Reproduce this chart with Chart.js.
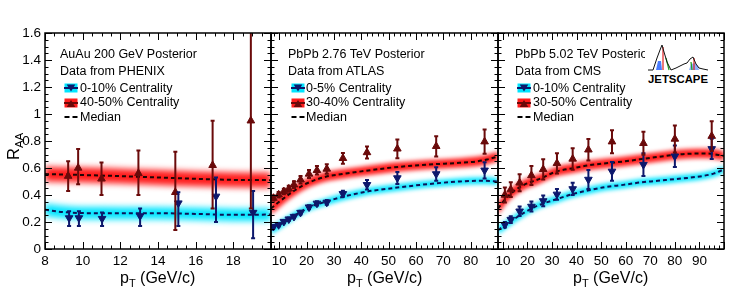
<!DOCTYPE html>
<html>
<head>
<meta charset="utf-8">
<script src="https://cdn.jsdelivr.net/npm/chart.js@4.4.1/dist/chart.umd.min.js"></script>
<style>
html,body{margin:0;padding:0;background:#fff;}
#wrap{position:relative;width:747px;height:294px;overflow:hidden;background:#fff;font-family:"Liberation Sans",Arial,Helvetica,sans-serif;color:#000;}
#wrap canvas{position:absolute;left:0;top:0;}
.t{position:absolute;white-space:nowrap;line-height:1;}
.lg{font-size:12.5px;}
.xt{font-size:16px;}
.sub{font-size:11px;position:relative;top:4px;}
.sw{position:absolute;}
</style>
</head>
<body>
<div id="wrap">
<canvas id="c1" width="747" height="294" style="width:747px;height:294px"></canvas>
<canvas id="c2" width="747" height="294" style="width:747px;height:294px"></canvas>
<canvas id="c3" width="747" height="294" style="width:747px;height:294px"></canvas>

<!-- axis titles -->
<div class="t" style="left:4.5px;top:160px;font-size:16.5px;transform:rotate(-90deg);transform-origin:0 0">R<span style="font-size:11.5px;position:relative;top:4px">AA</span></div>
<div class="t xt" style="left:120px;top:269.5px">p<span class="sub">T</span> (GeV/c)</div>
<div class="t xt" style="left:347px;top:269.5px">p<span class="sub">T</span> (GeV/c)</div>
<div class="t xt" style="left:573px;top:269.5px">p<span class="sub">T</span> (GeV/c)</div>

<!-- legend panel 1 -->
<div class="t lg" style="left:60px;top:48px">AuAu 200 GeV Posterior</div>
<div class="t lg" style="left:60px;top:64.5px">Data from PHENIX</div>
<div class="t lg" style="left:80px;top:81.5px">0-10% Centrality</div>
<div class="t lg" style="left:80px;top:96px">40-50% Centrality</div>
<div class="t lg" style="left:80px;top:110.5px">Median</div>
<!-- legend panel 2 -->
<div class="t lg" style="left:288px;top:48px">PbPb 2.76 TeV Posterior</div>
<div class="t lg" style="left:288px;top:64.5px">Data from ATLAS</div>
<div class="t lg" style="left:306px;top:81.5px">0-5% Centrality</div>
<div class="t lg" style="left:306px;top:96px">30-40% Centrality</div>
<div class="t lg" style="left:306px;top:110.5px">Median</div>
<!-- legend panel 3 -->
<div class="t lg" style="left:515px;top:48px">PbPb 5.02 TeV Posterior</div>
<div class="t lg" style="left:515px;top:64.5px">Data from CMS</div>
<div class="t lg" style="left:533px;top:81.5px">0-10% Centrality</div>
<div class="t lg" style="left:533px;top:96px">30-50% Centrality</div>
<div class="t lg" style="left:533px;top:110.5px">Median</div>

<div id="swatches"></div>

<!-- JETSCAPE logo -->
<svg class="sw" style="left:645px;top:42px" width="68" height="44" viewBox="0 0 68 44">
  <rect x="0" y="0" width="68" height="44" fill="#fff"/>
  <polygon points="11,28 13,19 16,19 17,28" fill="#4a7dff"/>
  <polygon points="44,28 46,22 50,21 53,24 54,28" fill="#8fb0ff"/>
  <line x1="18" y1="5" x2="18" y2="28" stroke="#e02020" stroke-width="1.2"/>
  <line x1="21" y1="16" x2="24" y2="28" stroke="#20a020" stroke-width="1.2"/>
  <line x1="46" y1="20" x2="47" y2="28" stroke="#20a020" stroke-width="1.2"/>
  <line x1="49" y1="16" x2="49" y2="28" stroke="#e02020" stroke-width="1.2"/>
  <polyline points="3,28 8,28 12,16 15,8 17,3 19,10 22,20 26,28 31,26 35,24 39,22 42,21 45,17 48,15 51,22 54,26 58,27 63,28" fill="none" stroke="#111" stroke-width="1"/>
  <text x="3" y="41" font-family="Liberation Sans, Arial, sans-serif" font-weight="bold" font-size="11.5" textLength="60" lengthAdjust="spacingAndGlyphs">JETSCAPE</text>
</svg>
</div>

<script>
// ================= DATA =================
const yTickLabels = [0, 0.2, 0.4, 0.6, 0.8, 1, 1.2, 1.4, 1.6];
const xTickLabelsAuAu = [8, 10, 12, 14, 16, 18];
const xTickLabelsPb276 = [10, 20, 30, 40, 50, 60, 70, 80];
const xTickLabelsPb502 = [10, 20, 30, 40, 50, 60, 70, 80, 90];

// --- AuAu 200 GeV, PHENIX ---
const auauPtCentral   = [9.28, 9.8, 11.03, 13.05, 15.08, 17.08, 19.05];
const auauRaaCentral  = [0.23, 0.23, 0.225, 0.245, 0.34, 0.39, 0.27];
const auauLoCentral   = [0.17, 0.17, 0.17, 0.17, 0.17, 0.20, 0.08];
const auauHiCentral   = [0.28, 0.28, 0.27, 0.30, 0.42, 0.53, 0.43];
const auauPtPeriph    = [9.23, 9.76, 11.0, 12.96, 14.92, 16.9, 18.93];
const auauRaaPeriph   = [0.54, 0.60, 0.52, 0.56, 0.42, 0.62, 0.95];
const auauLoPeriph    = [0.43, 0.48, 0.40, 0.40, 0.14, 0.30, 0.30];
const auauHiPeriph    = [0.65, 0.74, 0.64, 0.73, 0.72, 0.95, 1.80];
const auauMedPtCentral  = [8, 9, 10, 12, 14, 16, 18, 20];
const auauMedCentral    = [0.29, 0.273, 0.266, 0.265, 0.265, 0.26, 0.253, 0.255];
const auauBandCentral   = [0.045, 0.045, 0.045, 0.045, 0.045, 0.045, 0.045, 0.045];
const auauMedPtPeriph   = [8, 10, 12, 14, 16, 18, 20];
const auauMedPeriph     = [0.555, 0.548, 0.54, 0.53, 0.52, 0.512, 0.51];
const auauBandPeriph    = [0.055, 0.055, 0.055, 0.055, 0.055, 0.055, 0.055];

// --- PbPb 2.76 TeV, ATLAS ---
const pb276Pt          = [7.9, 9.8, 11.7, 13.5, 15.4, 17.8, 20.9, 23.8, 27.4, 33.3, 42.1, 53.2, 67.4, 85.1];
const pb276RaaCentral  = [0.166, 0.179, 0.203, 0.221, 0.240, 0.270, 0.310, 0.338, 0.345, 0.409, 0.476, 0.526, 0.556, 0.583];
const pb276LoCentral   = [0.154, 0.167, 0.191, 0.209, 0.227, 0.256, 0.295, 0.322, 0.327, 0.387, 0.441, 0.481, 0.506, 0.523];
const pb276HiCentral   = [0.178, 0.191, 0.215, 0.233, 0.253, 0.284, 0.325, 0.354, 0.363, 0.431, 0.511, 0.571, 0.606, 0.643];
const pb276RaaPeriph   = [0.377, 0.402, 0.426, 0.446, 0.476, 0.513, 0.556, 0.583, 0.593, 0.672, 0.715, 0.742, 0.761, 0.795];
const pb276LoPeriph    = [0.357, 0.382, 0.406, 0.424, 0.451, 0.485, 0.526, 0.551, 0.558, 0.632, 0.670, 0.672, 0.686, 0.705];
const pb276HiPeriph    = [0.397, 0.422, 0.446, 0.468, 0.501, 0.541, 0.586, 0.615, 0.628, 0.712, 0.760, 0.812, 0.836, 0.885];
const pb276MedPtCentral = [7, 10, 15, 21, 27, 33, 42, 52, 64, 76, 85, 90];
const pb276MedCentral   = [0.14, 0.175, 0.24, 0.31, 0.35, 0.385, 0.425, 0.452, 0.48, 0.50, 0.506, 0.50];
const pb276BandCentral  = [0.03, 0.028, 0.026, 0.025, 0.025, 0.025, 0.025, 0.025, 0.025, 0.025, 0.025, 0.025];
const pb276MedPtPeriph  = [7, 10, 15, 20, 27, 33, 40, 52, 64, 76, 82, 86, 90];
const pb276MedPeriph    = [0.30, 0.35, 0.425, 0.485, 0.535, 0.555, 0.575, 0.605, 0.625, 0.638, 0.648, 0.663, 0.685];
const pb276BandPeriph   = [0.045, 0.042, 0.038, 0.036, 0.035, 0.035, 0.035, 0.035, 0.035, 0.035, 0.035, 0.035, 0.035];

// --- PbPb 5.02 TeV, CMS ---
const pb502Pt          = [10.8, 13.2, 16.8, 21.6, 26.4, 32, 38.4, 44.8, 54.4, 67.2, 80, 95];
const pb502RaaCentral  = [0.18, 0.218, 0.28, 0.315, 0.356, 0.405, 0.445, 0.515, 0.575, 0.625, 0.687, 0.742];
const pb502LoCentral   = [0.16, 0.193, 0.245, 0.278, 0.316, 0.365, 0.40, 0.445, 0.505, 0.54, 0.607, 0.667];
const pb502HiCentral   = [0.20, 0.243, 0.315, 0.352, 0.396, 0.445, 0.49, 0.585, 0.645, 0.71, 0.767, 0.817];
const pb502RaaPeriph   = [0.40, 0.44, 0.49, 0.545, 0.59, 0.635, 0.667, 0.735, 0.795, 0.783, 0.815, 0.836];
const pb502LoPeriph    = [0.345, 0.385, 0.427, 0.475, 0.515, 0.56, 0.587, 0.655, 0.71, 0.698, 0.715, 0.726];
const pb502HiPeriph    = [0.455, 0.495, 0.553, 0.615, 0.665, 0.71, 0.747, 0.815, 0.88, 0.868, 0.915, 0.946];
const pb502MedPtCentral = [8, 12, 18, 24, 32, 39, 45, 52, 59, 66, 73, 80, 86, 92, 96, 100];
const pb502MedCentral   = [0.14, 0.19, 0.262, 0.32, 0.37, 0.41, 0.435, 0.46, 0.475, 0.493, 0.505, 0.518, 0.528, 0.543, 0.56, 0.59];
const pb502BandCentral  = [0.03, 0.028, 0.026, 0.025, 0.025, 0.025, 0.025, 0.025, 0.025, 0.025, 0.025, 0.025, 0.025, 0.025, 0.025, 0.025];
const pb502MedPtPeriph  = [8, 12, 18, 25, 32, 39, 45, 59, 73, 86, 93, 100];
const pb502MedPeriph    = [0.30, 0.39, 0.47, 0.52, 0.575, 0.60, 0.62, 0.648, 0.682, 0.706, 0.707, 0.69];
const pb502BandPeriph   = [0.045, 0.04, 0.037, 0.035, 0.035, 0.035, 0.035, 0.035, 0.035, 0.035, 0.035, 0.035];

// ================= STYLE =================
const FONT = '"Liberation Sans", Arial, Helvetica, sans-serif';
const CYAN = 'rgb(0,229,255)';
const RED = 'rgb(255,28,28)';
const MBLUE = '#0d186c';
const MRED = '#6a0a0a';
const LBLUE = '#0c1458';
const LRED = '#1e0606';

function xy(xs, ys) { return xs.map((x, i) => ({ x: x, y: ys[i] })); }
function shift(ys, hw, s) { return ys.map((v, i) => v + s * hw[i]); }
function stepVals(min, max, step) {
  const out = [];
  const start = Math.ceil(min / step - 1e-9);
  for (let k = start; k * step <= max + 1e-9; k++) out.push(+(k * step).toFixed(6));
  return out;
}
function isMult(v, step) { const r = v / step; return Math.abs(r - Math.round(r)) < 1e-6; }

// ---- plugins ----
const blurBands = {
  id: 'blurBands',
  beforeDatasetsDraw(chart, args, o) { chart.ctx.filter = 'blur(' + o.radius + 'px)'; },
  beforeDatasetDraw(chart, args) { if (!chart.data.datasets[args.index].isBand) chart.ctx.filter = 'none'; },
  afterDatasetsDraw(chart) { chart.ctx.filter = 'none'; }
};

const errorBars = {
  id: 'errorBars',
  afterDatasetsDraw(chart) {
    const { ctx, chartArea: a, scales: { x, y } } = chart;
    ctx.save();
    ctx.filter = 'none';
    ctx.beginPath(); ctx.rect(a.left, a.top, a.right - a.left, a.bottom - a.top); ctx.clip();
    chart.data.datasets.forEach(ds => {
      if (!ds.errLo) return;
      ctx.strokeStyle = ds.errColor; ctx.lineWidth = 2; ctx.beginPath();
      ds.data.forEach((p, i) => {
        const px = x.getPixelForValue(p.x);
        const y1 = y.getPixelForValue(ds.errLo[i]);
        const y2 = y.getPixelForValue(ds.errHi[i]);
        ctx.moveTo(px, y1); ctx.lineTo(px, y2);
        ctx.moveTo(px - 2, y1); ctx.lineTo(px + 2, y1);
        ctx.moveTo(px - 2, y2); ctx.lineTo(px + 2, y2);
      });
      ctx.stroke();
    });
    ctx.restore();
  }
};

const rootFrame = {
  id: 'rootFrame',
  afterDraw(chart, args, o) {
    const { ctx, chartArea: a, scales: { x, y } } = chart;
    ctx.save();
    ctx.filter = 'none';
    ctx.strokeStyle = '#000'; ctx.lineWidth = 1;
    ctx.beginPath();
    stepVals(y.min, y.max, o.yMinor).forEach(v => {
      const len = isMult(v, o.yMajor) ? 7 : 3.5;
      const py = Math.round(y.getPixelForValue(v)) + 0.5;
      ctx.moveTo(a.left, py); ctx.lineTo(a.left + len, py);
      ctx.moveTo(a.right, py); ctx.lineTo(a.right - len, py);
    });
    stepVals(x.min, x.max, o.xMinor).forEach(v => {
      const len = isMult(v, o.xMajor) ? 7 : 3.5;
      const px = Math.round(x.getPixelForValue(v)) + 0.5;
      ctx.moveTo(px, a.bottom); ctx.lineTo(px, a.bottom - len);
      ctx.moveTo(px, a.top); ctx.lineTo(px, a.top + len);
    });
    ctx.stroke();
    ctx.lineWidth = 1.5;
    ctx.strokeRect(a.left, a.top, a.right - a.left, a.bottom - a.top);
    ctx.restore();
  }
};

function buildDatasets(p) {
  const bandBase = { showLine: true, borderWidth: 0, borderColor: 'transparent', pointRadius: 0, cubicInterpolationMode: 'monotone', isBand: true };
  return [
    { data: xy(p.ptC, p.vC), showLine: false, pointStyle: 'triangle', pointRotation: 180, pointRadius: 4.4,
      pointBackgroundColor: MBLUE, pointBorderColor: MBLUE, pointBorderWidth: 1, errLo: p.loC, errHi: p.hiC, errColor: MBLUE },
    { data: xy(p.ptP, p.vP), showLine: false, pointStyle: 'triangle', pointRotation: 0, pointRadius: 4.4,
      pointBackgroundColor: MRED, pointBorderColor: MRED, pointBorderWidth: 1, errLo: p.loP, errHi: p.hiP, errColor: MRED },
    { data: xy(p.mptC, p.mC), borderColor: LBLUE, borderWidth: 2, borderDash: [4, 3], pointRadius: 0, fill: false, cubicInterpolationMode: 'monotone' },
    { data: xy(p.mptP, p.mP), borderColor: LRED, borderWidth: 2, borderDash: [4, 3], pointRadius: 0, fill: false, cubicInterpolationMode: 'monotone' },
    Object.assign({ data: xy(p.mptP, shift(p.mP, p.bP, 1)), fill: '+1', backgroundColor: RED }, bandBase),
    Object.assign({ data: xy(p.mptP, shift(p.mP, p.bP, -1)), fill: false }, bandBase),
    Object.assign({ data: xy(p.mptC, shift(p.mC, p.bC, 1)), fill: '+1', backgroundColor: CYAN }, bandBase),
    Object.assign({ data: xy(p.mptC, shift(p.mC, p.bC, -1)), fill: false }, bandBase)
  ];
}

function makeChart(id, p) {
  return new Chart(document.getElementById(id), {
    type: 'line',
    data: { datasets: buildDatasets(p) },
    options: {
      responsive: false, animation: false, devicePixelRatio: 1, events: [],
      layout: { padding: { left: p.padLeft, right: 747 - p.right, top: 33, bottom: 0 } },
      scales: {
        x: {
          type: 'linear', min: p.xmin, max: p.xmax,
          afterBuildTicks: s => { s.ticks = p.xLabels.map(v => ({ value: v })); },
          afterFit: s => { s.height = 45; },
          grid: { display: false, drawTicks: false }, border: { display: false },
          ticks: { color: '#000', font: { family: FONT, size: 13.5 }, padding: 4, maxRotation: 0, autoSkip: false, callback: v => String(v) }
        },
        y: {
          type: 'linear', min: 0, max: 1.6, display: p.showY,
          afterBuildTicks: s => { s.ticks = yTickLabels.map(v => ({ value: v })); },
          afterFit: s => { s.width = p.showY ? 45 : 0; },
          grid: { display: false, drawTicks: false }, border: { display: false },
          ticks: { color: '#000', font: { family: FONT, size: 13.5 }, padding: 4, callback: v => String(v) }
        }
      },
      plugins: {
        legend: { display: false }, tooltip: { enabled: false },
        blurBands: { radius: p.blur },
        rootFrame: { xMinor: p.xMinor, xMajor: p.xMajor, yMinor: 0.05, yMajor: 0.2 }
      }
    },
    plugins: [blurBands, errorBars, rootFrame]
  });
}

makeChart('c1', {
  padLeft: 0, right: 271, xmin: 8, xmax: 20, xLabels: xTickLabelsAuAu, showY: true, blur: 3, xMinor: 0.5, xMajor: 2,
  ptC: auauPtCentral, vC: auauRaaCentral, loC: auauLoCentral, hiC: auauHiCentral,
  ptP: auauPtPeriph, vP: auauRaaPeriph, loP: auauLoPeriph, hiP: auauHiPeriph,
  mptC: auauMedPtCentral, mC: auauMedCentral, bC: auauBandCentral,
  mptP: auauMedPtPeriph, mP: auauMedPeriph, bP: auauBandPeriph
});
makeChart('c2', {
  padLeft: 271, right: 498, xmin: 7, xmax: 90, xLabels: xTickLabelsPb276, showY: false, blur: 2, xMinor: 2, xMajor: 10,
  ptC: pb276Pt, vC: pb276RaaCentral, loC: pb276LoCentral, hiC: pb276HiCentral,
  ptP: pb276Pt, vP: pb276RaaPeriph, loP: pb276LoPeriph, hiP: pb276HiPeriph,
  mptC: pb276MedPtCentral, mC: pb276MedCentral, bC: pb276BandCentral,
  mptP: pb276MedPtPeriph, mP: pb276MedPeriph, bP: pb276BandPeriph
});
makeChart('c3', {
  padLeft: 498, right: 724, xmin: 8, xmax: 100, xLabels: xTickLabelsPb502, showY: false, blur: 2, xMinor: 2, xMajor: 10,
  ptC: pb502Pt, vC: pb502RaaCentral, loC: pb502LoCentral, hiC: pb502HiCentral,
  ptP: pb502Pt, vP: pb502RaaPeriph, loP: pb502LoPeriph, hiP: pb502HiPeriph,
  mptC: pb502MedPtCentral, mC: pb502MedCentral, bC: pb502BandCentral,
  mptP: pb502MedPtPeriph, mP: pb502MedPeriph, bP: pb502BandPeriph
});

// ---- legend swatches (band + marker, and median line) ----
function swatch(left, cy, band, mark, up, id) {
  const tri = up ? '7,3 11.3,10 2.7,10' : '2.7,2.5 11.3,2.5 7,9.5';
  return '<svg class="sw" style="left:' + left + 'px;top:' + (cy - 6) + 'px" width="14" height="12">' +
    '<defs><filter id="' + id + '" x="-20%" y="-30%" width="140%" height="160%"><feGaussianBlur stdDeviation="0.7"/></filter></defs>' +
    '<rect x="0.5" y="1.5" width="13" height="9" fill="' + band + '" filter="url(#' + id + ')"/>' +
    '<line x1="0" y1="6" x2="14" y2="6" stroke="' + mark + '" stroke-width="2"/>' +
    '<polygon points="' + tri + '" fill="' + mark + '"/></svg>';
}
function medianSw(left, cy) {
  return '<svg class="sw" style="left:' + left + 'px;top:' + (cy - 2) + 'px" width="14" height="4">' +
    '<line x1="0.5" y1="2" x2="14" y2="2" stroke="#000" stroke-width="2" stroke-dasharray="5,3"/></svg>';
}
let html = '';
[[64, 'a'], [291, 'b'], [517, 'c']].forEach(([l, k]) => {
  html += swatch(l, 88, CYAN, MBLUE, false, 'f' + k + '1');
  html += swatch(l, 102.5, RED, MRED, true, 'f' + k + '2');
  html += medianSw(l, 117);
});
document.getElementById('swatches').innerHTML = html;
</script>
</body>
</html>
